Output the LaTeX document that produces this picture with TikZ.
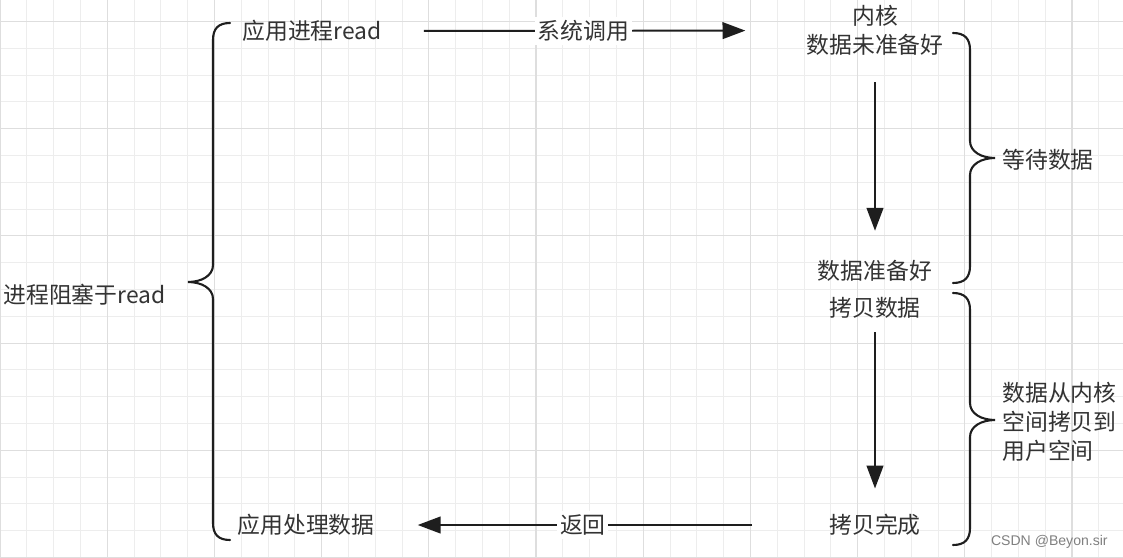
\documentclass[tikz,border=0pt]{standalone}
\usepackage{fontspec}
\setmainfont{Noto Sans CJK SC}
\newfontfamily\markfont{Liberation Sans}
\usepackage{xcolor}
\usetikzlibrary{
    arrows.meta
}

\definecolor{inkgray}{HTML}{333333}
\definecolor{linegray}{HTML}{1E1E1E}
\definecolor{gridminor}{HTML}{EDEDED}
\definecolor{gridmajor}{HTML}{DEDEDE}

\begin{document}
\begin{tikzpicture}[
    x=0.02cm, y=-0.02cm,
    stage/.style={
        inner sep=0pt,
        text=inkgray,
        font=\fontsize{13}{16.5}\selectfont,
        align=center
    },
    calltag/.style={
        stage,
        fill=white,
        inner xsep=1.5pt,
        inner ysep=2pt
    },
    arrow/.style={-{Triangle[length=13pt,width=9.5pt]}, line width=1.1pt, draw=linegray},
    brace/.style={line width=1.2pt, draw=linegray, line cap=round},
    gridline/.style={line width=0.5pt, draw=gridminor},
    gridbold/.style={line width=0.6pt, draw=gridmajor}
]

% background grid
\useasboundingbox (0,0) rectangle (1123,558);
\fill[white] (0,0) rectangle (1123,558);
\begin{scope}
    \clip (0,0) rectangle (1123,558);
    \foreach \i in {0,...,41} \draw[gridline] ({26.8*\i},0) -- ({26.8*\i},558);
    \foreach \j in {0,...,20} \draw[gridline] (0,{21.5+26.8*\j}) -- (1123,{21.5+26.8*\j});
    \foreach \i in {0,4,...,40} \draw[gridbold] ({26.8*\i},0) -- ({26.8*\i},558);
    \foreach \j in {0,4,...,20} \draw[gridbold] (0,{21.5+26.8*\j}) -- (1123,{21.5+26.8*\j});
\end{scope}

% steps
\node[stage] (appread) at (312,31) {应用进程read};
\node[stage] (kernel) at (875,30.5) {内核\\数据未准备好};
\node[stage] (ready) at (875,271) {数据准备好};
\node[stage] (copy) at (875,308) {拷贝数据};
\node[stage] (done) at (875,525) {拷贝完成};
\node[stage] (handle) at (306,525) {应用处理数据};

% brace labels
\node[stage, anchor=west] (blocked) at (3,295) {进程阻塞于read};
\node[stage, anchor=west] (waiting) at (1002,160) {等待数据};
\node[stage, anchor=west, align=left] (copying) at (1002,422) {数据从内核\\空间拷贝到\\用户空间};
\node[anchor=east, inner sep=0pt, text=gray, font=\markfont\fontsize{8}{9}\selectfont] (mark) at (1108,542) {CSDN @Beyon.sir};

% arrows
\draw[arrow, shorten <=23.8pt, shorten >=34.6pt] (appread) -- node[calltag, pos=0.475] (syscall) {系统调用} (kernel);
\draw[arrow, shorten <=15pt, shorten >=16.7pt] (kernel) -- (ready);
\draw[arrow, shorten <=7.7pt, shorten >=14.5pt] (copy) -- (done);
\draw[arrow, shorten <=43.7pt, shorten >=24.4pt] (done) -- node[calltag, pos=0.542] (ret) {返回} (handle);

% braces
\draw[brace] (230,23) .. controls (218,23) and (213,29) .. (213,40) -- (213,265)
    .. controls (213,276) and (201,282) .. (188,282)
    .. controls (201,282) and (213,288) .. (213,299) -- (213,523)
    .. controls (213,534) and (218,540) .. (230,540);
\draw[brace] (953,33) .. controls (965,33) and (970,39) .. (970,50) -- (970,141)
    .. controls (970,152) and (982,158) .. (995,158)
    .. controls (982,158) and (970,164) .. (970,175) -- (970,266)
    .. controls (970,277) and (965,283) .. (953,283);
\draw[brace] (953,293) .. controls (965,293) and (970,299) .. (970,310) -- (970,403)
    .. controls (970,414) and (982,420) .. (995,420)
    .. controls (982,420) and (970,426) .. (970,437) -- (970,528)
    .. controls (970,539) and (965,545) .. (953,545);

\end{tikzpicture}
\end{document}
